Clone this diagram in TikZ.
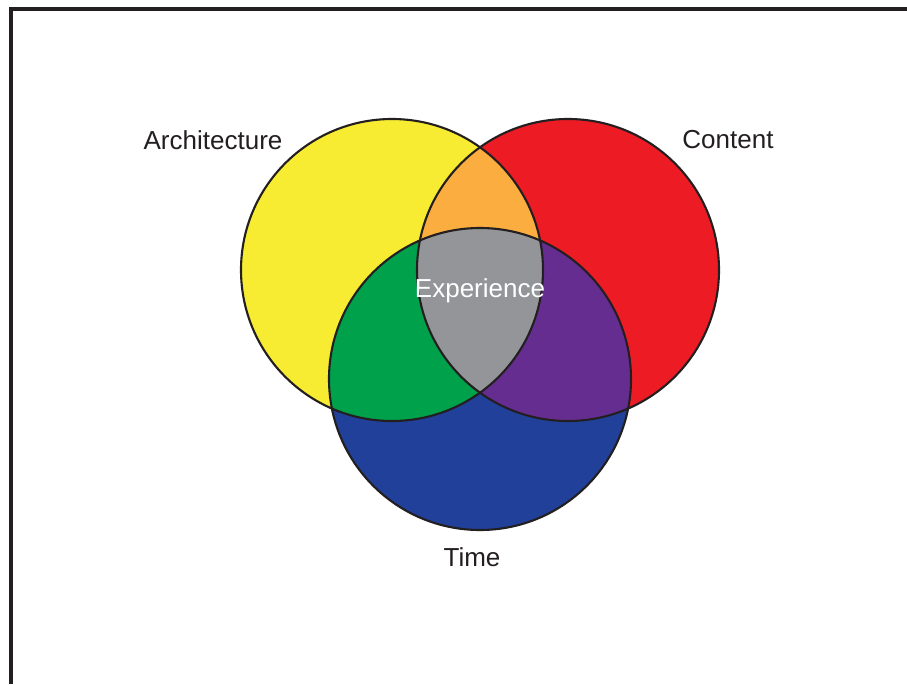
\documentclass[tikz,border=0pt]{standalone}
\usepackage{fontspec}
\setmainfont{Liberation Sans}
\usepackage{tikz}
\usetikzlibrary{positioning}
\usepackage{xcolor}

\definecolor{archyellow}{HTML}{F7EC31}
\definecolor{contred}{HTML}{ED1C24}
\definecolor{timeblue}{HTML}{21409A}
\definecolor{mixorange}{HTML}{FBAD3F}
\definecolor{mixgreen}{HTML}{00A14B}
\definecolor{mixpurple}{HTML}{662D91}
\definecolor{expgray}{HTML}{939598}
\definecolor{labelgray}{HTML}{231F20}

\begin{document}
\begin{tikzpicture}[
			x=0.025cm,y=-0.025cm,
			label/.style={font=\fontsize{18.5}{22}\selectfont,text=labelgray,inner sep=0pt},
			ring/.style={draw=labelgray,line width=1.5pt}
			]
			
			% Page
			\useasboundingbox (0,0) rectangle (907,684);
			\draw[line width=2.2pt,labelgray] (11,684) -- (11,9) -- (907,9);
			
			% Centres
			\coordinate (a) at (392,270);
			\coordinate (c) at (568,270);
			\coordinate (t) at (480,379);
			\def\rad{151}
			
			% Circles
			\fill[archyellow] (a) circle[radius=\rad];
			\fill[contred] (c) circle[radius=\rad];
			\fill[timeblue] (t) circle[radius=\rad];
			
			% Overlaps
			\begin{scope}
				\clip (a) circle[radius=\rad];
				\fill[mixorange] (c) circle[radius=\rad];
				\fill[mixgreen] (t) circle[radius=\rad];
			\end{scope}
			\begin{scope}
				\clip (c) circle[radius=\rad];
				\fill[mixpurple] (t) circle[radius=\rad];
			\end{scope}
			\begin{scope}
				\clip (a) circle[radius=\rad];
				\clip (c) circle[radius=\rad];
				\fill[expgray] (t) circle[radius=\rad];
			\end{scope}
			
			\foreach \p in {a,c,t}
			{
				\draw[ring] (\p) circle[radius=\rad];
			}
			
			% Labels
			\node[label] (arch) at (213,140){Architecture};
			\node[label] (cont) at (728,140){Content};
			\node[label] (time) at (472,557){Time};
			\node[label,text=white] (exp) at (480,291){Experience};
			
		\end{tikzpicture}
\end{document}
